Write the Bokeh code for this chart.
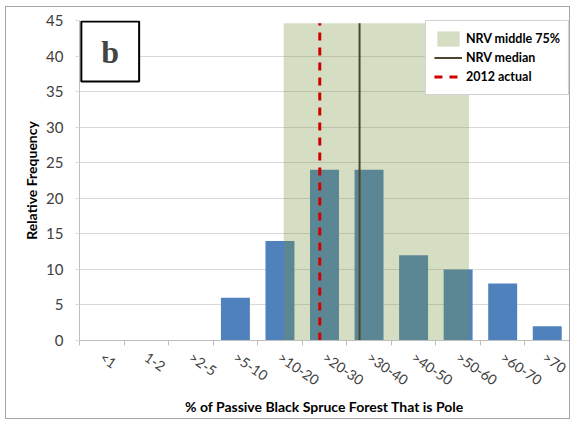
from bokeh.plotting import figure
from bokeh.models import FixedTicker, Range1d, Label, Legend, LegendItem
from bokeh.embed import file_html
from bokeh.resources import INLINE

categories = ["<1", "1-2", ">2-5", ">5-10", ">10-20", ">20-30", ">30-40",
              ">40-50", ">50-60", ">60-70", ">70"]
frequency = [0, 0, 0, 6, 14, 24, 24, 12, 10, 8, 2]
# NRV / 2012 markers expressed in category-axis units (0 = left edge of "<1")
nrv_middle75 = [4.585, 8.744]
nrv_median = 6.287
actual_2012 = 5.394
marker_top = 44.6
y_ticks = [0, 5, 10, 15, 20, 25, 30, 35, 40, 45]

FONT = "Lato"
xs = [i + 0.5 for i in range(len(categories))]
edges = list(range(len(categories) + 1))

p = figure(width=565, height=413, output_backend="svg", toolbar_location=None,
           x_range=Range1d(0, len(categories)), y_range=Range1d(0, 45),
           min_border_left=73, min_border_right=2, min_border_top=13, min_border_bottom=80)
p.outline_line_color = None
p.background_fill_color = "white"
p.border_fill_color = "white"
p.styles = {"border": "1px solid #a6a6a6", "margin-left": "5px", "margin-top": "6px"}

bars = p.vbar(x=xs, top=frequency, width=0.65, fill_color="#4F81BD", line_color=None)
shade = p.quad(left=[nrv_middle75[0]], right=[nrv_middle75[1]], bottom=[0], top=[marker_top],
               fill_color="#769339", fill_alpha=0.31, line_color=None)
med = p.line(x=[nrv_median, nrv_median], y=[0, marker_top], line_color="#4A4630", line_width=2)
act = p.line(x=[actual_2012, actual_2012], y=[0, marker_top], line_color="#D00000",
             line_width=3, line_dash="8 7")

# axes
xa = p.xaxis[0]
xa.ticker = FixedTicker(ticks=xs, minor_ticks=edges)
xa.major_label_overrides = {x: c for x, c in zip(xs, categories)}
xa.major_tick_line_color = None
xa.major_tick_out = 0
xa.minor_tick_in = 0
xa.minor_tick_out = 5
xa.minor_tick_line_color = "#BFBFBF"
xa.axis_line_color = "#BFBFBF"
xa.major_label_orientation = -0.6
xa.major_label_standoff = 10
xa.major_label_text_font = FONT
xa.major_label_text_font_size = "14px"
xa.major_label_text_color = "#404040"
xa.axis_label = "% of Passive Black Spruce Forest That is Pole"
xa.axis_label_text_font = FONT
xa.axis_label_text_font_size = "14px"
xa.axis_label_text_font_style = "bold"
xa.axis_label_text_color = "black"
xa.axis_label_standoff = 0

ya = p.yaxis[0]
ya.ticker = FixedTicker(ticks=y_ticks)
ya.major_tick_line_color = "#D9D9D9"
ya.major_tick_in = 0
ya.major_tick_out = 4
ya.minor_tick_line_color = None
ya.axis_line_color = "#BFBFBF"
ya.major_label_text_font = FONT
ya.major_label_text_font_size = "15px"
ya.major_label_text_color = "#404040"
ya.major_label_standoff = 12
ya.axis_label = "Relative Frequency"
ya.axis_label_text_font = FONT
ya.axis_label_text_font_size = "14px"
ya.axis_label_text_font_style = "bold"
ya.axis_label_text_color = "black"
ya.axis_label_standoff = 3

p.xgrid.grid_line_color = None
p.ygrid.grid_line_color = "#D9D9D9"
p.ygrid.ticker = FixedTicker(ticks=y_ticks)

legend = Legend(items=[LegendItem(label="NRV middle 75%", renderers=[shade]),
                       LegendItem(label="NRV median", renderers=[med]),
                       LegendItem(label="2012 actual", renderers=[act])],
                location="top_right", margin=0, padding=8, spacing=0,
                glyph_width=28, glyph_height=19, label_standoff=4,
                label_text_font=FONT, label_text_font_size="12.5px",
                label_text_font_style="bold", label_text_color="black",
                border_line_color="#A6A6A6", border_line_width=1,
                background_fill_color="white", background_fill_alpha=1)
p.add_layout(legend)

panel = Label(x=0.69, y=40.64, text="b", text_font="Liberation Serif", text_font_size="32px",
              text_font_style="bold", text_align="center", text_baseline="middle",
              border_line_color="black", border_line_width=2,
              background_fill_color="white", padding=(20, 12), level="overlay")
p.add_layout(panel)

open("out.html", "w").write(file_html(p, INLINE))
